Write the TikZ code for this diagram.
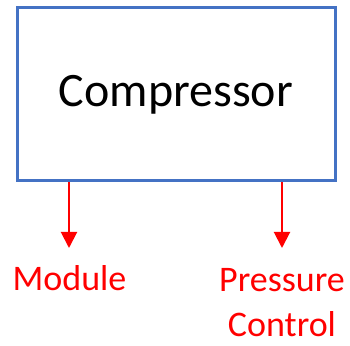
\documentclass[tikz,border=0pt]{standalone}
\usepackage{fontspec}
\setmainfont{Carlito}
\usepackage{xcolor}
\usetikzlibrary{arrows.meta,positioning}
\definecolor{boxblue}{HTML}{4472C4}
\definecolor{sigred}{HTML}{FF0000}
\tikzset{
  block/.style={draw=boxblue,line width=3pt,minimum width=318pt,minimum height=173pt,
    inner sep=0pt,font=\fontsize{48}{58}\selectfont},
  flow/.style={-{Triangle[length=16pt,width=16pt]},line width=2pt,draw=sigred},
  outlabel/.style={text=sigred,font=\fontsize{36}{45}\selectfont,align=center,inner sep=0pt}
}
\begin{document}
\begin{tikzpicture}[x=1pt,y=1pt]
  \useasboundingbox (0,0) rectangle (350,345);
  % Compressor block
  \node[block] (comp) at (176,250.5) {Compressor};
  % Arrow tips
  \coordinate (modtip) at (69,97);
  \coordinate (prestip) at (282,97);
  % Outputs
  \draw[flow] (comp.south -| modtip) -- (modtip);
  \draw[flow] (comp.south -| prestip) -- (prestip);
  % Labels
  \node[outlabel,anchor=base] (modlab) at (69.5,55) {Module};
  \node[outlabel,anchor=base] (preslab) at (282,8.3) {Pressure\\Control};
\end{tikzpicture}
\end{document}
